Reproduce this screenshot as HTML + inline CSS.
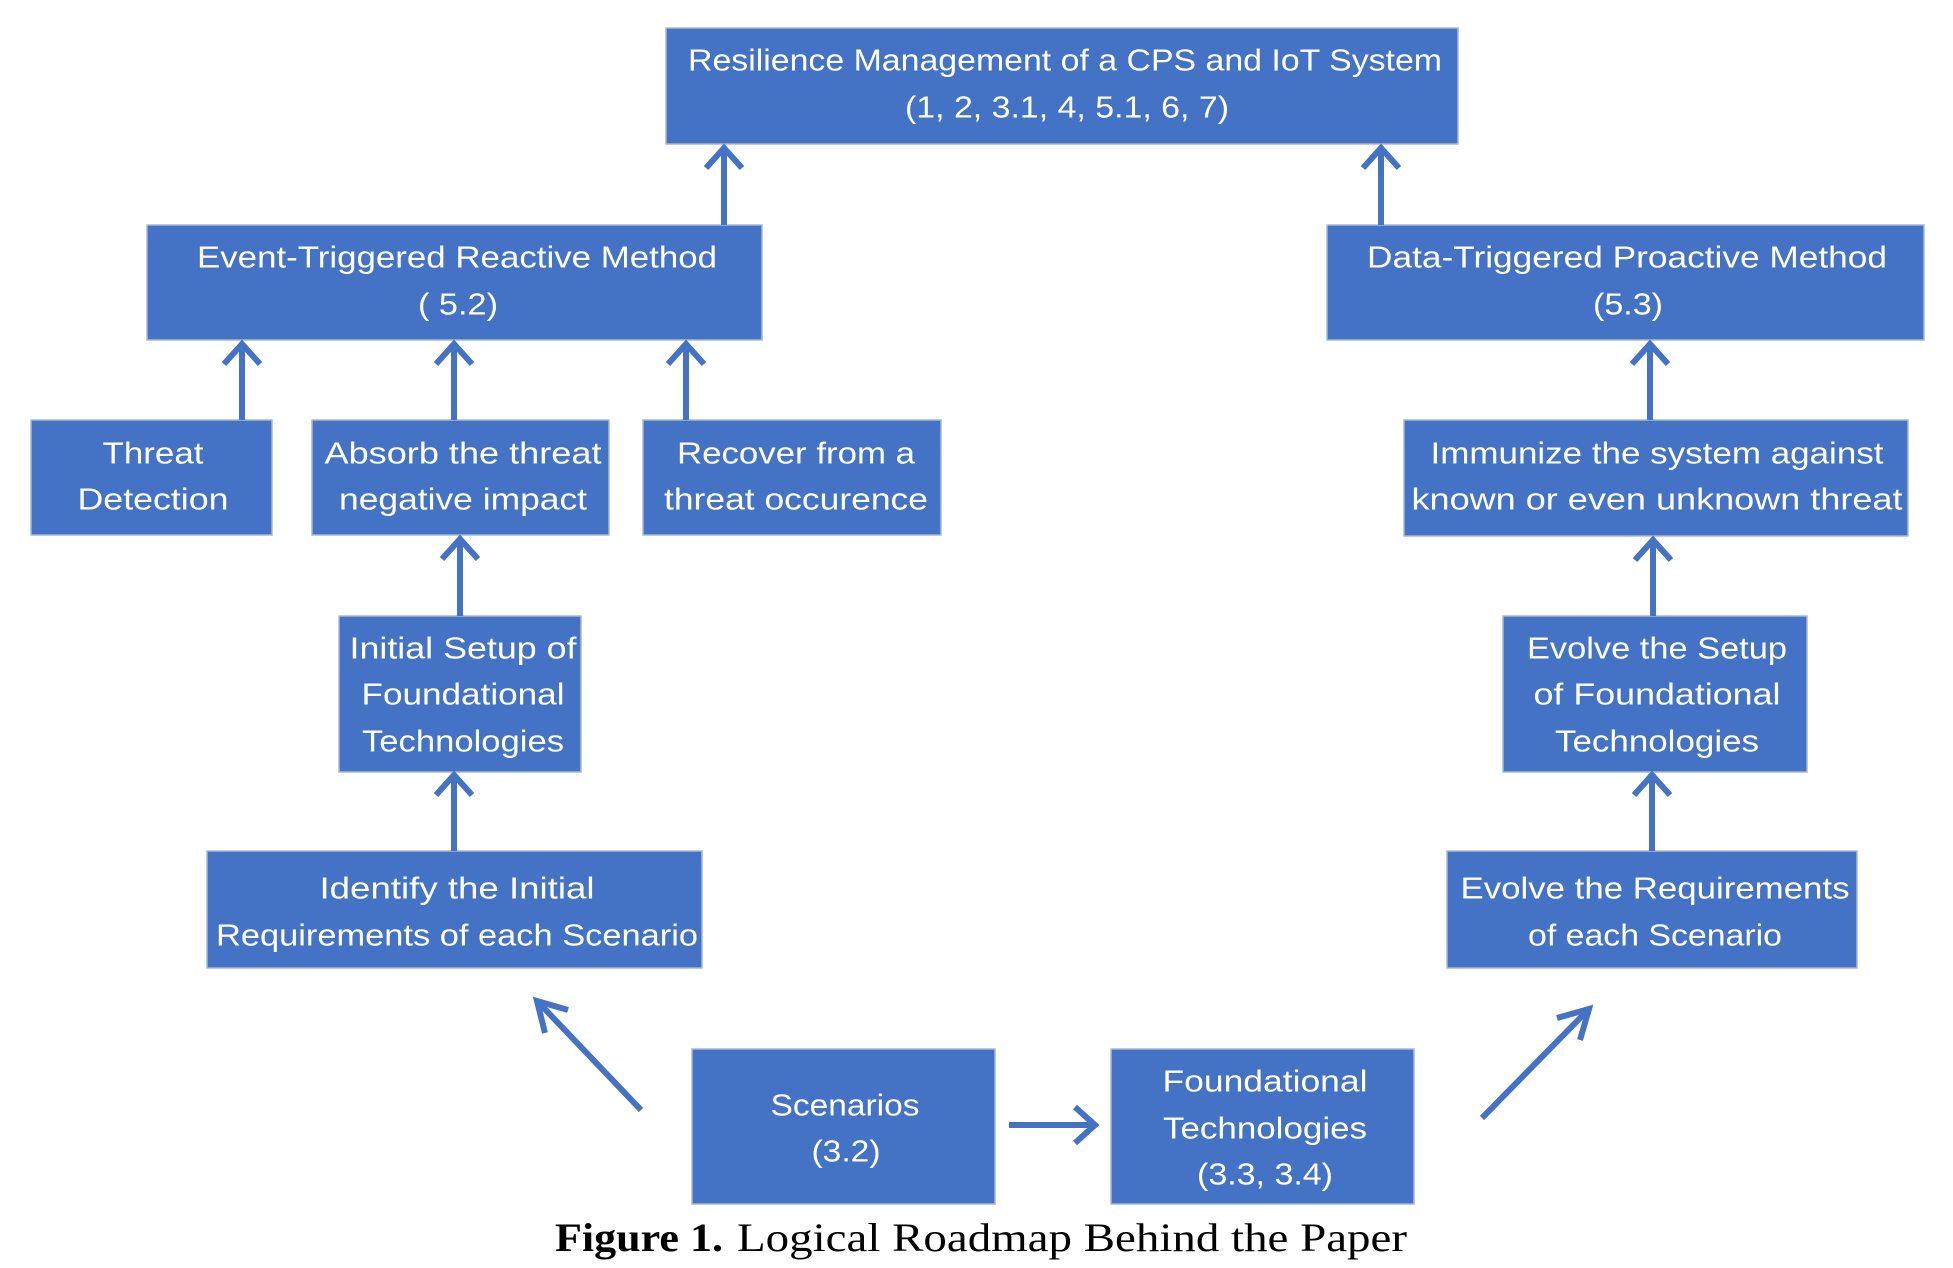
<!DOCTYPE html>
<html><head><meta charset="utf-8"><style>
html,body{margin:0;padding:0;background:#fff;}
svg{display:block}
.b{fill:#4472C4;stroke:#a9b8d6;stroke-width:1.5}
.t{fill:#fff;font-family:"Liberation Sans",sans-serif;font-size:31px;text-anchor:middle;dominant-baseline:central}
.a{stroke:#4472C4;stroke-width:6;fill:none;stroke-linecap:butt;stroke-linejoin:miter}
</style></head><body>
<svg width="1953" height="1268" viewBox="0 0 1953 1268" xmlns="http://www.w3.org/2000/svg">
<rect class="b" x="666" y="28" width="792" height="116"/>
<rect class="b" x="147" y="225" width="615" height="115"/>
<rect class="b" x="1327" y="225" width="597" height="115"/>
<rect class="b" x="31" y="420" width="241" height="115"/>
<rect class="b" x="312" y="420" width="297" height="115"/>
<rect class="b" x="643" y="420" width="298" height="115"/>
<rect class="b" x="1404" y="420" width="504" height="116"/>
<rect class="b" x="339" y="616" width="242" height="156"/>
<rect class="b" x="1503" y="616" width="304" height="156"/>
<rect class="b" x="207" y="851" width="495" height="117"/>
<rect class="b" x="1447" y="851" width="410" height="117"/>
<rect class="b" x="692" y="1049" width="303" height="155"/>
<rect class="b" x="1111" y="1049" width="303" height="155"/>

<g transform="translate(0,-3)">
<text class="t" x="1065" y="63" textLength="754" lengthAdjust="spacingAndGlyphs">Resilience Management of a CPS and IoT System</text>
<text class="t" x="1067" y="110" textLength="324" lengthAdjust="spacingAndGlyphs">(1, 2, 3.1, 4, 5.1, 6, 7)</text>
<text class="t" x="457" y="260" textLength="520" lengthAdjust="spacingAndGlyphs">Event-Triggered Reactive Method</text>
<text class="t" x="458" y="307" textLength="80" lengthAdjust="spacingAndGlyphs">( 5.2)</text>
<text class="t" x="1627" y="260" textLength="520" lengthAdjust="spacingAndGlyphs">Data-Triggered Proactive Method</text>
<text class="t" x="1628" y="307" textLength="70" lengthAdjust="spacingAndGlyphs">(5.3)</text>
<text class="t" x="153" y="456" textLength="101" lengthAdjust="spacingAndGlyphs">Threat</text>
<text class="t" x="153" y="502" textLength="151" lengthAdjust="spacingAndGlyphs">Detection</text>
<text class="t" x="463" y="456" textLength="277" lengthAdjust="spacingAndGlyphs">Absorb the threat</text>
<text class="t" x="463" y="502" textLength="248" lengthAdjust="spacingAndGlyphs">negative impact</text>
<text class="t" x="796" y="456" textLength="238" lengthAdjust="spacingAndGlyphs">Recover from a</text>
<text class="t" x="796" y="502" textLength="264" lengthAdjust="spacingAndGlyphs">threat occurence</text>
<text class="t" x="1657" y="456" textLength="453" lengthAdjust="spacingAndGlyphs">Immunize the system against</text>
<text class="t" x="1657" y="502" textLength="491" lengthAdjust="spacingAndGlyphs">known or even unknown threat</text>
<text class="t" x="463" y="651" textLength="227" lengthAdjust="spacingAndGlyphs">Initial Setup of</text>
<text class="t" x="463" y="697" textLength="203" lengthAdjust="spacingAndGlyphs">Foundational</text>
<text class="t" x="463" y="744" textLength="202" lengthAdjust="spacingAndGlyphs">Technologies</text>
<text class="t" x="1657" y="651" textLength="260" lengthAdjust="spacingAndGlyphs">Evolve the Setup</text>
<text class="t" x="1657" y="697" textLength="247" lengthAdjust="spacingAndGlyphs">of Foundational</text>
<text class="t" x="1657" y="744" textLength="204" lengthAdjust="spacingAndGlyphs">Technologies</text>
<text class="t" x="457" y="891" textLength="275" lengthAdjust="spacingAndGlyphs">Identify the Initial</text>
<text class="t" x="457" y="938" textLength="482" lengthAdjust="spacingAndGlyphs">Requirements of each Scenario</text>
<text class="t" x="1655" y="891" textLength="389" lengthAdjust="spacingAndGlyphs">Evolve the Requirements</text>
<text class="t" x="1655" y="938" textLength="254" lengthAdjust="spacingAndGlyphs">of each Scenario</text>
<text class="t" x="845" y="1108" textLength="149" lengthAdjust="spacingAndGlyphs">Scenarios</text>
<text class="t" x="846" y="1154" textLength="69" lengthAdjust="spacingAndGlyphs">(3.2)</text>
<text class="t" x="1265" y="1084" textLength="205" lengthAdjust="spacingAndGlyphs">Foundational</text>
<text class="t" x="1265" y="1131" textLength="204" lengthAdjust="spacingAndGlyphs">Technologies</text>
<text class="t" x="1265" y="1177" textLength="136" lengthAdjust="spacingAndGlyphs">(3.3, 3.4)</text>
</g>

<text x="555" y="1251" font-family="Liberation Serif, serif" font-size="40" font-weight="bold" fill="#000" textLength="168" lengthAdjust="spacingAndGlyphs">Figure 1.</text>
<text x="737" y="1251" font-family="Liberation Serif, serif" font-size="40" fill="#000" textLength="670" lengthAdjust="spacingAndGlyphs">Logical Roadmap Behind the Paper</text>

<g class="a">
<line x1="724" y1="225" x2="724" y2="148"/><polyline points="706,168 724,148 742,168"/>
<line x1="1381" y1="225" x2="1381" y2="148"/><polyline points="1363,168 1381,148 1399,168"/>
<line x1="242" y1="420" x2="242" y2="344"/><polyline points="224,364 242,344 260,364"/>
<line x1="454" y1="420" x2="454" y2="344"/><polyline points="436,364 454,344 472,364"/>
<line x1="686" y1="420" x2="686" y2="344"/><polyline points="668,364 686,344 704,364"/>
<line x1="1650" y1="420" x2="1650" y2="344"/><polyline points="1632,364 1650,344 1668,364"/>
<line x1="460" y1="616" x2="460" y2="539"/><polyline points="442,559 460,539 478,559"/>
<line x1="1653" y1="616" x2="1653" y2="540"/><polyline points="1635,560 1653,540 1671,560"/>
<line x1="454" y1="851" x2="454" y2="775"/><polyline points="436,795 454,775 472,795"/>
<line x1="1652" y1="851" x2="1652" y2="775"/><polyline points="1634,795 1652,775 1670,795"/>
<line x1="1009" y1="1125" x2="1093" y2="1125"/><polyline points="1075,1107 1095,1125 1075,1143"/>
<line x1="641" y1="1110" x2="540" y2="1004"/><polyline points="545,1033 537,1001 568,1010"/>
<line x1="1482" y1="1118" x2="1586" y2="1012"/><polyline points="1557,1018 1589,1009 1580,1040"/>
</g>
</svg>
</body></html>
